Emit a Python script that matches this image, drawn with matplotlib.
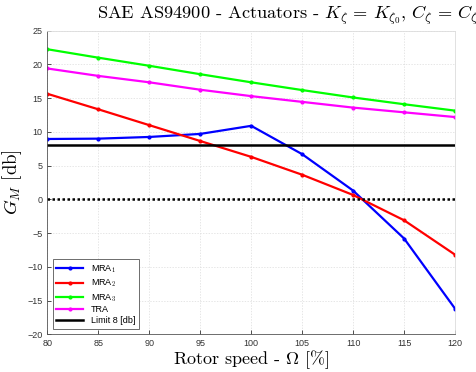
import matplotlib.pyplot as plt

plt.rcParams['mathtext.fontset'] = 'cm'

# dane
omega = [80, 85, 90, 95, 100, 105, 110, 115, 120]
mra1 = [8.95, 9.0, 9.25, 9.7, 10.9, 6.7, 1.3, -5.8, -16.2]
mra2 = [15.65, 13.35, 11.0, 8.65, 6.3, 3.65, 0.65, -3.1, -8.2]
mra3 = [22.25, 21.0, 19.8, 18.55, 17.35, 16.2, 15.1, 14.1, 13.15]
tra = [19.4, 18.3, 17.35, 16.25, 15.3, 14.45, 13.6, 12.9, 12.2]
limit = 8
x_ticks = [80, 85, 90, 95, 100, 105, 110, 115, 120]
y_ticks = [-20, -15, -10, -5, 0, 5, 10, 15, 20, 25]

fig = plt.figure(figsize=(4.76, 3.72), dpi=100)
ax = fig.add_axes([0.0994, 0.1013, 0.8566, 0.8162])

ax.plot(omega, mra1, color=(0, 0, 1), lw=1.6, marker='.', ms=4, label=r'MRA$_\mathsf{1}$')
ax.plot(omega, mra2, color=(1, 0, 0), lw=1.6, marker='.', ms=4, label=r'MRA$_\mathsf{2}$')
ax.plot(omega, mra3, color=(0, 1, 0), lw=1.6, marker='.', ms=4, label=r'MRA$_\mathsf{3}$')
ax.plot(omega, tra, color=(1, 0, 1), lw=1.6, marker='.', ms=4, label='TRA')
ax.plot([omega[0], omega[-1]], [limit, limit], color='black', lw=1.8, label='Limit 8 [db]')
ax.plot([omega[0], omega[-1]], [0, 0], color='black', lw=1.8, ls=(0, (1, 1)))

ax.set_xlim(80, 120)
ax.set_ylim(-20, 25)
ax.set_xticks(x_ticks)
ax.set_yticks(y_ticks)
ax.tick_params(direction='in', length=3, width=0.6, labelsize=6.5, colors='#333333',
               top=False, right=False)
for lbl in ax.get_xticklabels() + ax.get_yticklabels():
    lbl.set_fontfamily('Liberation Sans')
ax.grid(True, color='#dcdcdc', ls=(0, (2, 2)), lw=0.5)
ax.spines['left'].set_color('#555555')
ax.spines['bottom'].set_color('#555555')
ax.spines['top'].set_color('#dcdcdc')
ax.spines['right'].set_color('#dcdcdc')
for s in ax.spines.values():
    s.set_linewidth(0.6)

ax.set_xlabel(r'Rotor speed - $\Omega$ [%]', fontsize=13, family='cmr10', labelpad=0)
ax.set_ylabel(r'$G_M$ [db]', fontsize=13.5, family='cmr10', labelpad=2)
fig.text(0.204, 0.948,
         r'SAE AS94900 - Actuators - $K_\zeta\,=\,K_{\zeta_0}$, $C_\zeta\,=\,C_{\zeta_0}$',
         fontsize=13.2, family='cmr10', ha='left', va='baseline')

leg = ax.legend(loc='lower left', prop={'family': 'Liberation Sans', 'size': 6.5},
                fancybox=False, edgecolor='#555555', framealpha=1,
                handlelength=3.0, borderaxespad=0.6, labelspacing=0.2,
                borderpad=0.4)
leg.get_frame().set_linewidth(0.6)

fig.savefig('out.png', dpi=100)
